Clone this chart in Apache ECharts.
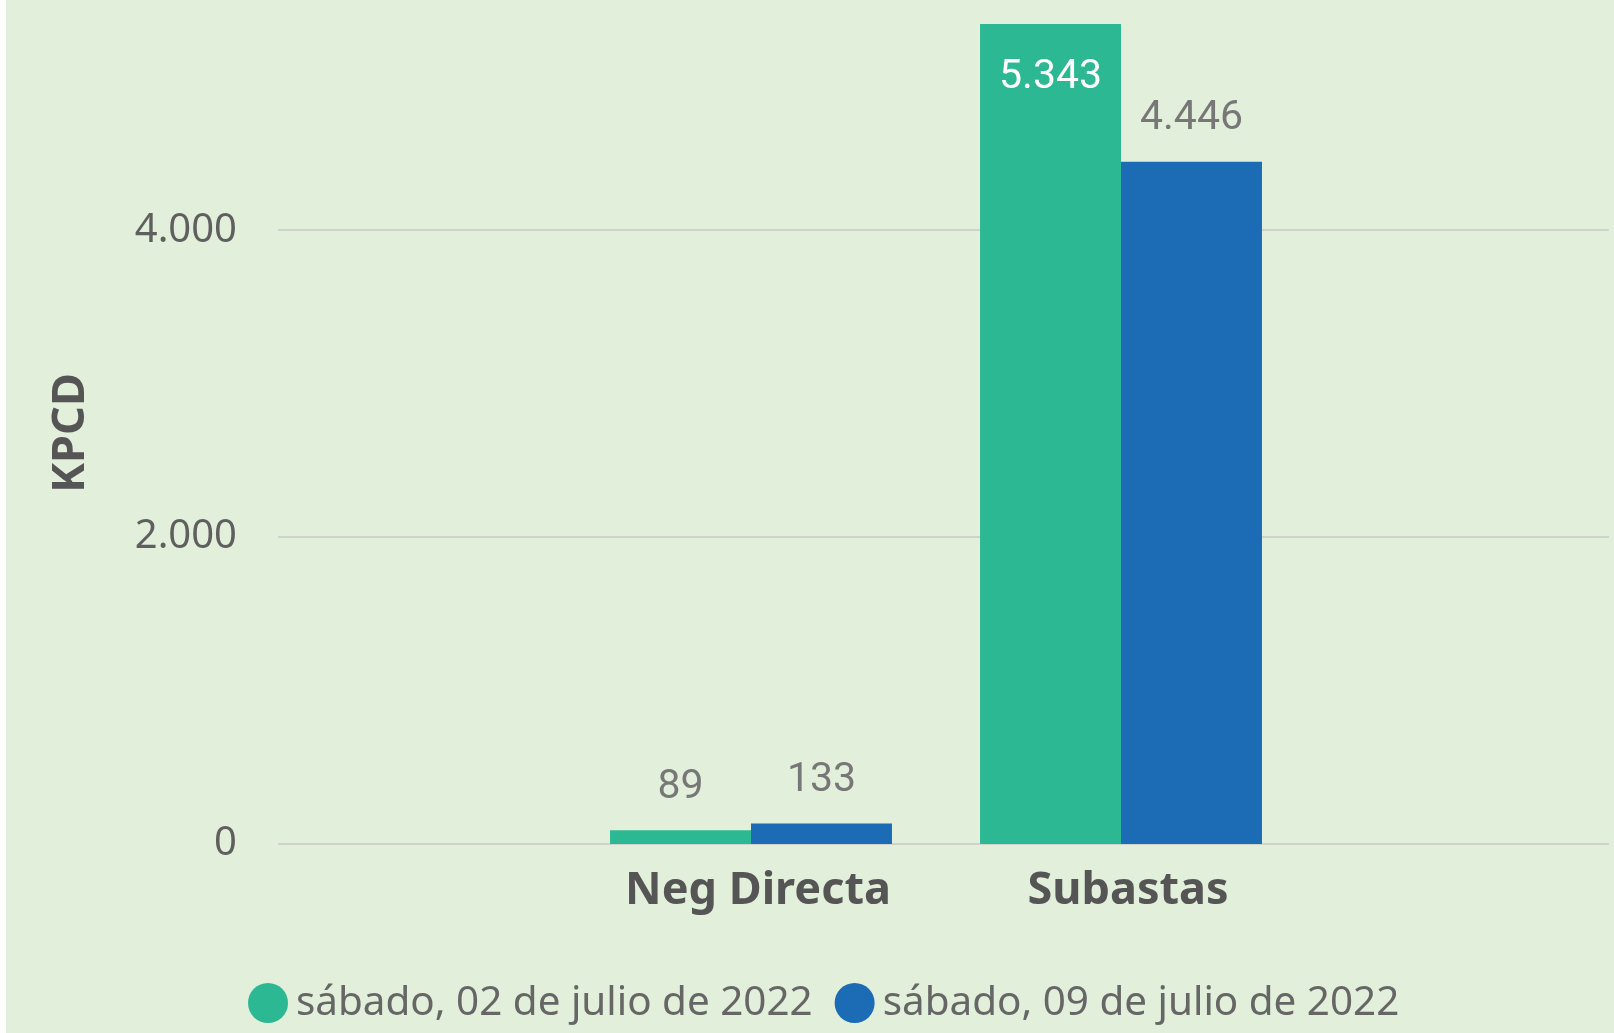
<!DOCTYPE html>
<html>
<head>
<meta charset="utf-8">
<script src="https://cdn.jsdelivr.net/npm/echarts@6/dist/echarts.min.js"></script>
<style>
  html, body { margin: 0; padding: 0; background: #fff; }
  #main { position: absolute; left: 6px; top: 0; width: 1608px; height: 1033px; }
</style>
</head>
<body>
<div id="main"></div>
<script>
// datos
var categorias = ['Neg Directa', 'Subastas'];
var fechas = ['sábado, 02 de julio de 2022', 'sábado, 09 de julio de 2022'];
var valores02 = [89, 5343];
var valores09 = [133, 4446];
var ejeMax = 5500;
var ejeIntervalo = 2000;

var colores = ['#2db894', '#1b6cb4'];

var myChart = echarts.init(document.getElementById('main'));

function fmt(v) {
  return String(v).replace(/\B(?=(\d{3})+(?!\d))/g, '.');
}

var labelBase = {
  show: true,
  position: 'top',
  distance: 22,
  color: '#777',
  fontSize: 41,
  fontFamily: 'Roboto, sans-serif',
  formatter: function (p) { return fmt(p.value); }
};

// la barra más alta lleva la etiqueta dentro, en blanco
function datos(valores) {
  return valores.map(function (v) {
    if (v > ejeMax * 0.9) {
      return { value: v, label: { position: 'insideTop', distance: 33, color: '#fff' } };
    }
    return v;
  });
}

var option = {
  backgroundColor: '#e2efda',
  animation: false,
  color: colores,
  legend: {
    left: 237,
    top: 978,
    icon: 'circle',
    itemWidth: 40,
    itemHeight: 40,
    itemGap: 22,
    textStyle: {
      fontSize: 40.4,
      color: '#666',
      fontFamily: "'Noto Sans', sans-serif",
      padding: [0, 0, 0, 3]
    },
    data: fechas
  },
  grid: [
    { left: 272, right: 5, top: 0, bottom: 189 },
    { left: 560, right: 308, top: 0, bottom: 189 }
  ],
  xAxis: [
    { gridIndex: 0, type: 'value', min: 0, max: 1, show: false },
    {
      gridIndex: 1,
      type: 'category',
      data: categorias,
      axisLine: { show: false },
      axisTick: { show: false },
      axisLabel: {
        margin: 25,
        fontSize: 45,
        fontWeight: 'bold',
        color: '#555',
        fontFamily: "'Noto Sans', sans-serif",
        padding: [0, 0, 0, 14]
      }
    }
  ],
  yAxis: [
    {
      gridIndex: 0,
      type: 'value',
      min: 0,
      max: ejeMax,
      interval: ejeIntervalo,
      name: 'KPCD',
      nameLocation: 'middle',
      nameGap: 184,
      nameTextStyle: {
        fontSize: 45,
        fontWeight: 'bold',
        color: '#555',
        fontFamily: "'Noto Sans', sans-serif",
        padding: [0, 22, 0, 0]
      },
      axisLine: { show: false },
      axisTick: { show: false },
      axisLabel: {
        margin: 41,
        fontSize: 40,
        color: '#5f5f5f',
        fontFamily: "'Noto Sans', sans-serif",
        showMaxLabel: false,
        formatter: function (v) { return fmt(v); }
      },
      splitLine: { showMaxLine: false, lineStyle: { color: '#d0d3cd', width: 2 } }
    },
    { gridIndex: 1, type: 'value', min: 0, max: ejeMax, interval: ejeIntervalo, show: false }
  ],
  series: [
    {
      name: fechas[0],
      type: 'bar',
      xAxisIndex: 1,
      yAxisIndex: 1,
      barGap: '0%',
      barCategoryGap: '23.8%',
      label: labelBase,
      data: datos(valores02)
    },
    {
      name: fechas[1],
      type: 'bar',
      xAxisIndex: 1,
      yAxisIndex: 1,
      barGap: '0%',
      barCategoryGap: '23.8%',
      label: labelBase,
      data: datos(valores09)
    }
  ]
};

myChart.setOption(option);
</script>
</body>
</html>
